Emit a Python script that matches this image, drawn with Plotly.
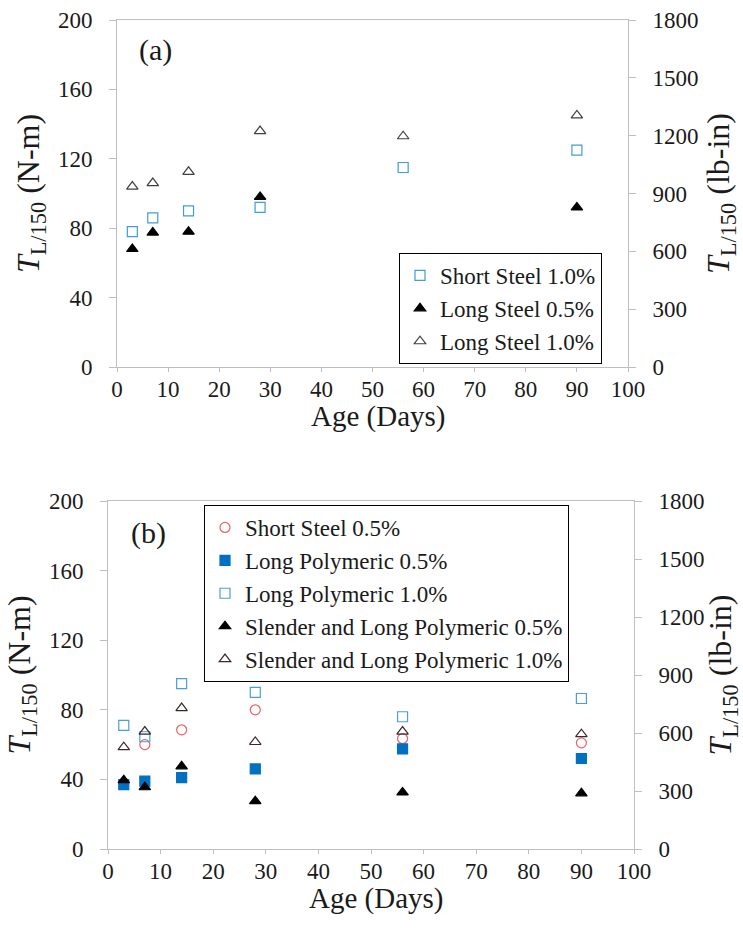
import plotly.graph_objects as go

# ---------- data ----------
age_a = [3, 7, 14, 28, 56, 90]
short_steel_10 = [78, 86, 90, 92, 115, 125]
long_steel_05_x = [3, 7, 14, 28, 90]
long_steel_05 = [68, 77.5, 78, 98, 92]
long_steel_10 = [104, 106, 112.5, 136, 133, 145]

age_b = [3, 7, 14, 28, 56, 90]
short_steel_05 = [38, 60, 68.5, 80, 63.5, 61]
long_poly_05 = [37, 39, 41, 46, 57.5, 52]
long_poly_10 = [71, 64.5, 95, 90, 76, 86.5]
slender_poly_05 = [39.5, 35.5, 47.5, 27.5, 32.5, 32]
slender_poly_10 = [58.5, 67.5, 81, 61.5, 67.5, 66]

x_ticks = list(range(0, 101, 10))
left_ticks = [0, 40, 80, 120, 160, 200]
right_ticks = [0, 300, 600, 900, 1200, 1500, 1800]

FONT = "Liberation Serif, Times New Roman, serif"
AXC = "#BFBFBF"
TXT = "#1a1a1a"

fig = go.Figure()

def add(x, y, name, symbol, color, xa, ya, legend, fill=None, size=10, group=None):
    fig.add_trace(go.Scatter(
        x=x, y=y, mode="markers", name=name, xaxis=xa, yaxis=ya,
        legend=legend, legendgroup=group or name,
        marker=dict(symbol=symbol, size=size, color=fill if fill else color,
                    line=dict(color=color, width=1.2)),
    ))

# panel (a)
add(age_a, short_steel_10, "Short Steel 1.0%", "square-open", "#3F9FD0", "x", "y", "legend")
add(long_steel_05_x, long_steel_05, "Long Steel 0.5%", "triangle-up", "#000000", "x", "y", "legend", fill="#000000")
add(age_a, long_steel_10, "Long Steel 1.0%", "triangle-up-open", "#404040", "x", "y", "legend")

# panel (b)
add(age_b, short_steel_05, "Short Steel 0.5%", "circle-open", "#E8626A", "x2", "y2", "legend2")
add(age_b, long_poly_05, "Long Polymeric 0.5%", "square", "#0070C0", "x2", "y2", "legend2", fill="#0070C0")
add(age_b, long_poly_10, "Long Polymeric 1.0%", "square-open", "#4A9FDA", "x2", "y2", "legend2")
add(age_b, slender_poly_05, "Slender and Long Polymeric 0.5%", "triangle-up", "#000000", "x2", "y2", "legend2", fill="#000000")
add(age_b, slender_poly_10, "Slender and Long Polymeric 1.0%", "triangle-up-open", "#3a2a2a", "x2", "y2", "legend2")

# dummy traces to anchor the right-hand axes
fig.add_trace(go.Scatter(x=[None], y=[None], xaxis="x", yaxis="y3", showlegend=False, hoverinfo="skip"))
fig.add_trace(go.Scatter(x=[None], y=[None], xaxis="x2", yaxis="y4", showlegend=False, hoverinfo="skip"))

W, H = 743, 935
dom_ax = [117 / W, 628 / W]
dom_ay = [1 - 367 / H, 1 - 20 / H]
dom_bx = [108 / W, 634 / W]
dom_by = [1 - 849 / H, 1 - 501 / H]

tickfont = dict(family=FONT, size=23, color=TXT)
ytitlefont = dict(family=FONT, size=32, color=TXT)
xtitlefont = dict(family=FONT, size=29, color=TXT)

def xaxis(domain, anchor):
    return dict(domain=domain, anchor=anchor, range=[0, 100], tickvals=x_ticks,
                automargin=False,
                showgrid=False, zeroline=False, showline=True, linecolor=AXC, linewidth=1,
                mirror=True, ticks="outside", ticklen=4, tickcolor=AXC,
                tickfont=tickfont, ticklabelstandoff=-3)

def yleft(domain, anchor):
    return dict(domain=domain, anchor=anchor, range=[0, 200], tickvals=left_ticks,
                automargin=False,
                showgrid=False, zeroline=False, showline=True, linecolor=AXC, linewidth=1,
                mirror=True, ticks="outside", ticklen=7, tickcolor=AXC,
                tickfont=tickfont, ticklabelstandoff=12,
                title=dict(text="<i>T</i><sub>L/150</sub> (N-m)", font=ytitlefont, standoff=8))

def yright(domain, anchor, overlay):
    return dict(domain=domain, anchor=anchor, overlaying=overlay, side="right",
                range=[0, 1800], tickvals=right_ticks, automargin=False,
                showgrid=False, zeroline=False, showline=False,
                ticks="outside", ticklen=7, tickcolor=AXC,
                tickfont=tickfont, ticklabelstandoff=12,
                title=dict(text="<i>T</i><sub>L/150</sub> (lb-in)", font=ytitlefont, standoff=9))

def label(text, x, y, font):
    return dict(text=text, x=x / W, y=1 - y / H, xref="paper", yref="paper",
                xanchor="center", yanchor="middle", showarrow=False, font=font)

fig.update_layout(
    width=W, height=H,
    margin=dict(l=0, r=0, t=0, b=0, autoexpand=False),
    paper_bgcolor="white", plot_bgcolor="white",
    font=dict(family=FONT, color=TXT),
    xaxis=xaxis(dom_ax, "y"),
    yaxis=yleft(dom_ay, "x"),
    yaxis3=yright(dom_ay, "x", "y"),
    xaxis2=xaxis(dom_bx, "y2"),
    yaxis2=yleft(dom_by, "x2"),
    yaxis4=yright(dom_by, "x2", "y2"),
    legend=dict(x=399 / W, y=1 - 253 / H, xanchor="left", yanchor="top",
                bordercolor="#000000", borderwidth=1, bgcolor="white",
                font=dict(family=FONT, size=23, color=TXT), tracegroupgap=0,
                itemwidth=30),
    legend2=dict(x=204 / W, y=1 - 505 / H, xanchor="left", yanchor="top",
                 bordercolor="#000000", borderwidth=1, bgcolor="white",
                 font=dict(family=FONT, size=23, color=TXT), tracegroupgap=0,
                 itemwidth=30),
    showlegend=True,
    annotations=[
        label("(a)", 155, 50, dict(family=FONT, size=30, color=TXT)),
        label("(b)", 148, 533, dict(family=FONT, size=30, color=TXT)),
        label("Age (Days)", 378, 416, xtitlefont),
        label("Age (Days)", 376, 898, xtitlefont),
    ],
)

fig.write_html("out.html")
